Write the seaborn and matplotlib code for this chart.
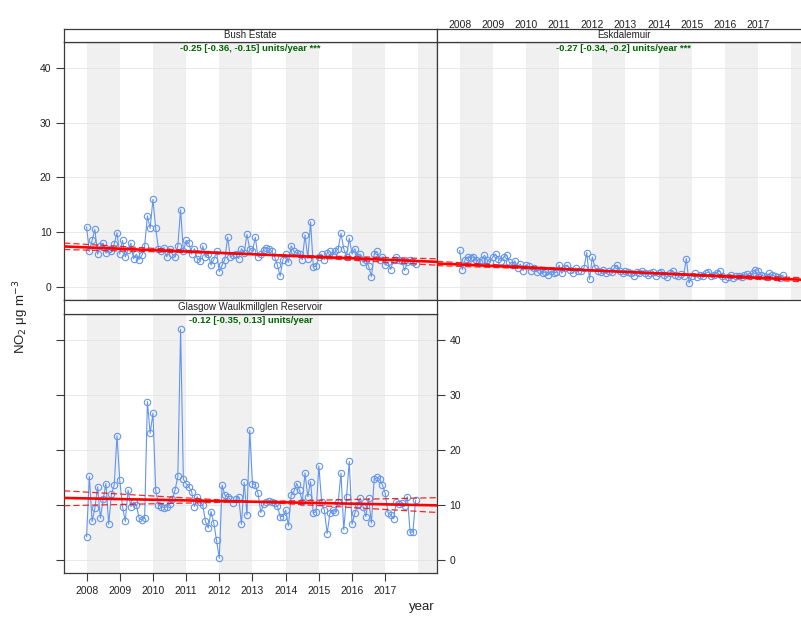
import numpy as np
import pandas as pd
import matplotlib
matplotlib.use("Agg")
import matplotlib.pyplot as plt
import seaborn as sns

# ---------------- data ----------------
sites = ["Bush Estate", "Eskdalemuir", "Glasgow Waulkmillglen Reservoir"]

bush = [11.0, 6.5, 8.5, 10.5, 6.0, 7.5, 8.0, 6.2, 7.0, 6.5, 7.8, 9.9,
        6.0, 8.5, 5.5, 6.8, 8.0, 5.2, 6.0, 5.0, 5.8, 7.5, 13.0, 10.7,
        16.0, 10.7, 7.0, 6.5, 7.2, 5.5, 7.0, 6.0, 5.5, 7.5, 14.1, 6.5,
        8.5, 8.0, 6.0, 7.0, 5.2, 4.8, 7.5, 5.5, 6.0, 4.0, 5.0, 6.5,
        2.8, 4.0, 5.0, 9.1, 5.5, 5.8, 6.0, 5.2, 7.0, 6.2, 9.6, 7.0,
        6.5, 9.1, 5.5, 6.0, 6.8, 7.2, 7.0, 6.5, 5.5, 4.0, 2.0, 5.0,
        6.0, 4.5, 7.5, 6.5, 6.2, 6.0, 5.0, 9.5, 5.2, 11.9, 3.7, 3.8,
        5.5, 6.0, 5.0, 6.2, 6.5, 5.8, 6.5, 7.0, 9.8, 7.0, 5.5, 8.9,
        6.0, 7.0, 5.5, 6.0, 4.5, 5.0, 3.8, 1.9, 6.0, 6.5, 5.0, 5.5,
        4.0, 4.5, 3.2, 5.0, 5.5, 5.0, 4.8, 3.0, 4.5, 5.0, 4.5, 4.2]

esk = [6.7, 3.2, 5.0, 5.5, 5.3, 5.5, 5.0, 4.5, 5.0, 5.8, 5.0, 4.6,
       5.5, 6.0, 5.2, 4.8, 5.5, 5.8, 4.5, 4.0, 4.8, 3.5, 4.2, 3.0,
       4.0, 3.8, 3.0, 3.5, 2.8, 3.2, 2.5, 2.8, 2.2, 3.0, 2.5, 2.7,
       4.0, 2.5, 3.5, 4.0, 3.2, 2.5, 3.5, 3.0, 3.0, 3.5, 6.3, 1.4,
       5.5, 3.5, 3.0, 2.8, 3.2, 2.5, 3.0, 2.8, 3.5, 4.0, 3.0, 2.5,
       3.0, 2.8, 2.5, 2.0, 2.8, 2.6, 3.0, 2.5, 2.2, 2.5, 2.8, 2.0,
       2.5, 2.8, 2.2, 1.8, 2.5, 3.0, 2.2, 2.0, 2.4, 2.0, 5.2, 0.7,
       2.0, 2.5, 1.8, 2.2, 2.0, 2.5, 2.8, 2.0, 2.2, 2.6, 3.0, 2.0,
       1.5, 1.8, 2.2, 1.6, 2.0, 2.0, 1.8, 2.2, 2.3, 2.0, 2.5, 3.2,
       3.0, 2.2, 2.0, 1.8, 2.5, 2.2, 2.0, 1.8, 1.6, 2.2, np.nan, np.nan]

glasgow = [4.2, 15.2, 7.0, 9.4, 13.3, 7.6, 11.0, 13.9, 6.5, 12.0, 13.6, 22.6,
           14.5, 9.7, 7.0, 12.7, 9.7, 10.5, 10.0, 7.6, 7.3, 7.6, 28.8, 23.0,
           26.7, 12.7, 10.0, 9.7, 9.5, 9.7, 10.2, 11.0, 12.7, 15.2, 41.9, 14.7,
           13.9, 13.3, 12.4, 9.7, 11.5, 10.6, 10.0, 7.0, 5.8, 8.8, 6.7, 3.6,
           0.3, 13.6, 11.8, 11.5, 11.0, 10.4, 11.0, 11.5, 6.5, 14.1, 8.2, 23.6,
           13.9, 13.6, 12.1, 8.6, 10.2, 10.6, 10.8, 10.6, 10.3, 9.8, 7.9, 7.9,
           9.1, 6.2, 11.8, 12.5, 13.9, 12.7, 10.6, 15.8, 11.5, 14.2, 8.5, 8.8,
           17.1, 10.6, 9.0, 4.8, 8.5, 9.1, 8.8, 10.6, 15.8, 5.5, 11.5, 17.9,
           6.5, 8.5, 10.0, 11.2, 9.7, 7.9, 11.2, 6.7, 14.7, 15.0, 14.7, 13.6,
           12.1, 8.6, 8.2, 7.5, 10.6, 10.2, 10.4, 9.8, 11.5, 5.0, 5.1, 10.9]

series = [bush, esk, glasgow]
slope = [-0.25, -0.27, -0.12]
slope_lo = [-0.36, -0.34, -0.35]
slope_hi = [-0.15, -0.2, 0.13]
stars = ["***", "***", ""]
years = list(range(2008, 2018))
y_ticks = [0, 10, 20, 30, 40]

# ---------------- figure ----------------
sns.set_style("white")
plt.rcParams["font.family"] = ["Liberation Sans", "DejaVu Sans"]

W, H = 801, 619
fig = plt.figure(figsize=(W / 100, H / 100), dpi=100)


def box(x0, y0, x1, y1):
    return fig.add_axes([x0 / W, 1 - y1 / H, (x1 - x0) / W, (y1 - y0) / H])


panel_px = [(64, 42, 437, 300), (437, 42, 810, 300), (64, 314, 437, 573)]
strip_px = [(64, 29, 437, 42), (437, 29, 810, 42), (64, 300, 437, 314)]

XLIM = (2007.32, 2018.56)
YLIM = (-2.36, 44.7)
line_col = "cornflowerblue"
frame_col = "#3a3a3a"

t = 2008 + np.arange(120) / 12.0

for i, site in enumerate(sites):
    ax = box(*panel_px[i])
    df = pd.DataFrame({"t": t, "no2": series[i]})

    # alternating year shading
    for yr in range(2008, 2020, 2):
        ax.axvspan(yr, yr + 1, color="#f0f0f0", lw=0, zorder=0)
    for yv in y_ticks:
        ax.axhline(yv, color="#e4e4e4", lw=0.6, zorder=0.5)

    sns.lineplot(data=df, x="t", y="no2", ax=ax, color=line_col,
                 linewidth=0.8, marker="o", markersize=4.6,
                 markerfacecolor="none", markeredgecolor=line_col,
                 markeredgewidth=0.8, zorder=2)

    # Theil-Sen style trend lines pivoting at median point
    vals = np.asarray(series[i], dtype=float)
    ok = ~np.isnan(vals)
    tm = np.median(t[ok])
    ym = np.median(vals[ok])
    xs = np.array(XLIM)
    ax.plot(xs, ym + slope[i] * (xs - tm), color="red", lw=1.9, zorder=3)
    for s in (slope_lo[i], slope_hi[i]):
        ax.plot(xs, ym + s * (xs - tm), color="red", lw=0.9,
                dashes=(5, 2.5), alpha=0.85, zorder=3)

    txt = f"{slope[i]} [{slope_lo[i]}, {slope_hi[i]}] units/year"
    if stars[i]:
        txt += " " + stars[i]
    ax.text(0.5, 0.974, txt, transform=ax.transAxes, ha="center", va="center",
            color="darkgreen", fontweight="bold", fontsize=6.8)

    ax.set_xlim(*XLIM)
    ax.set_ylim(*YLIM)
    ax.set_xlabel("")
    ax.set_ylabel("")
    ax.set_xticks(years)
    ax.set_xticklabels([str(y) for y in years])
    ax.set_yticks(y_ticks)
    ax.set_yticklabels([str(v) for v in y_ticks])
    for sp in ax.spines.values():
        sp.set_color(frame_col)
        sp.set_linewidth(0.9)
    ax.tick_params(axis="both", direction="out", length=6, width=0.8,
                   color=frame_col, labelsize=7.5, labelcolor="#222222", pad=3)

    if i == 0:
        ax.tick_params(axis="x", bottom=False, top=True, labelbottom=False, labeltop=False)
        ax.tick_params(axis="y", left=True, right=False, labelleft=True, labelright=False)
    elif i == 1:
        ax.tick_params(axis="x", bottom=False, top=True, labelbottom=False, labeltop=True)
        ax.tick_params(axis="y", left=False, right=False, labelleft=False, labelright=False)
    else:
        ax.tick_params(axis="x", bottom=True, top=False, labelbottom=True, labeltop=False)
        ax.tick_params(axis="y", left=True, right=True, labelleft=False, labelright=True)

    # strip
    sax = box(*strip_px[i])
    sax.set_xticks([])
    sax.set_yticks([])
    sax.set_facecolor("white")
    for sp in sax.spines.values():
        sp.set_color(frame_col)
        sp.set_linewidth(0.9)
    sax.text(0.5, 0.5, site, ha="center", va="center", fontsize=7,
             color="#222222", transform=sax.transAxes)
    sax.set_zorder(ax.get_zorder() + 1)

fig.text(422 / W, 1 - 607 / H, "year", ha="center", va="center", fontsize=9.5,
         color="#222222")
fig.text(21 / W, 1 - 317 / H, r"NO$_2$ μg m$^{-3}$", ha="center", va="center",
         rotation=90, fontsize=9.5, color="#222222")

fig.savefig("out.png", dpi=100, facecolor="white")
